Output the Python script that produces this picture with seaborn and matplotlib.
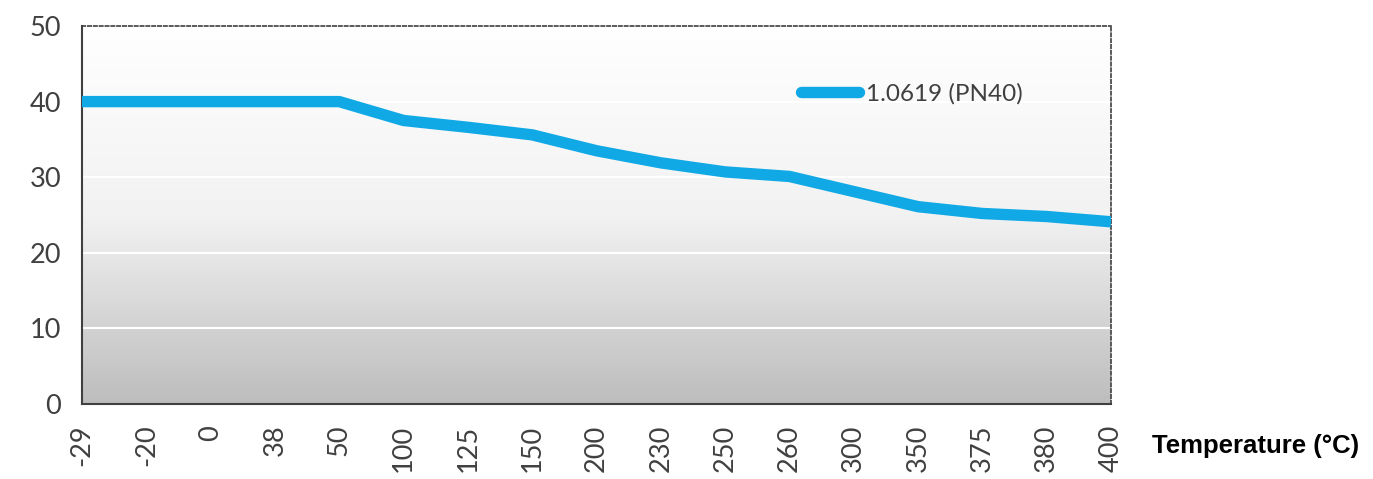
import numpy as np
import pandas as pd
import matplotlib
matplotlib.use("Agg")
import matplotlib.pyplot as plt
import seaborn as sns

temperatures = ["-29", "-20", "0", "38", "50", "100", "125", "150", "200",
                "230", "250", "260", "300", "350", "375", "380", "400"]
pressure = [40.0, 40.0, 40.0, 40.0, 40.0, 37.5, 36.6, 35.6, 33.5,
            31.9, 30.7, 30.1, 28.1, 26.1, 25.2, 24.8, 24.1]
series_name = "1.0619 (PN40)"
y_ticks = [0, 10, 20, 30, 40, 50]

df = pd.DataFrame({"Temperature": temperatures, "Pressure": pressure})
df["pos"] = np.arange(len(temperatures))

sns.set_style("white")
plt.rcParams['font.family'] = ['Lato', 'DejaVu Sans']

fig = plt.figure(figsize=(13.73, 4.79), dpi=100)
ax = fig.add_axes([82/1373, 1 - 404/479, (1111-82)/1373, (404-26)/479])

# gradient background (white at top, grey at bottom)
grad = np.linspace(0, 1, 256).reshape(-1, 1)
cmap = matplotlib.colors.LinearSegmentedColormap.from_list("g", ["#ffffff", "#f2f2f2", "#bdbdbd"])
ax.imshow(grad, aspect="auto", cmap=cmap, extent=[0, len(temperatures) - 1, 0, 50],
          origin="upper", zorder=0, interpolation="bilinear")
for yv in y_ticks[1:-1]:
    ax.axhline(yv, color="white", lw=1.5, zorder=1)

sns.lineplot(data=df, x="pos", y="Pressure", ax=ax, color="#10a9e6", lw=8.2,
             label=series_name, zorder=3, solid_joinstyle="round", solid_capstyle="butt")

ax.set_xlim(0, len(temperatures) - 1)
ax.set_ylim(0, 50)
ax.set_xticks(df["pos"])
ax.set_xticklabels(temperatures, rotation=90)
ax.set_yticks(y_ticks)
ax.tick_params(axis="both", labelsize=19.5, colors="#404040", length=11, width=1.5,
               direction="out", pad=4)
ax.set_xlabel("")
ax.set_ylabel("")

for s in ["left", "bottom"]:
    ax.spines[s].set_color("#404040")
    ax.spines[s].set_linewidth(1.5)
for s in ["top", "right"]:
    ax.spines[s].set_color("#404040")
    ax.spines[s].set_linewidth(1.2)
    ax.spines[s].set_linestyle((0, (2, 1.5)))

leg = ax.legend(loc="center left", bbox_to_anchor=(709/1029, 1 - 68/378), frameon=False,
                fontsize=17.5, handlelength=2.4, handletextpad=0.3, borderaxespad=0)
for t in leg.get_texts():
    t.set_color("#404040")
for h in leg.get_lines():
    h.set_solid_capstyle("round")

fig.text(1152/1373, 1 - 446/479, "Temperature (°C)", fontsize=18.5, fontweight="bold",
         family=["Liberation Sans", "DejaVu Sans"], va="center", ha="left", color="black")

fig.savefig("out.png", dpi=100)
